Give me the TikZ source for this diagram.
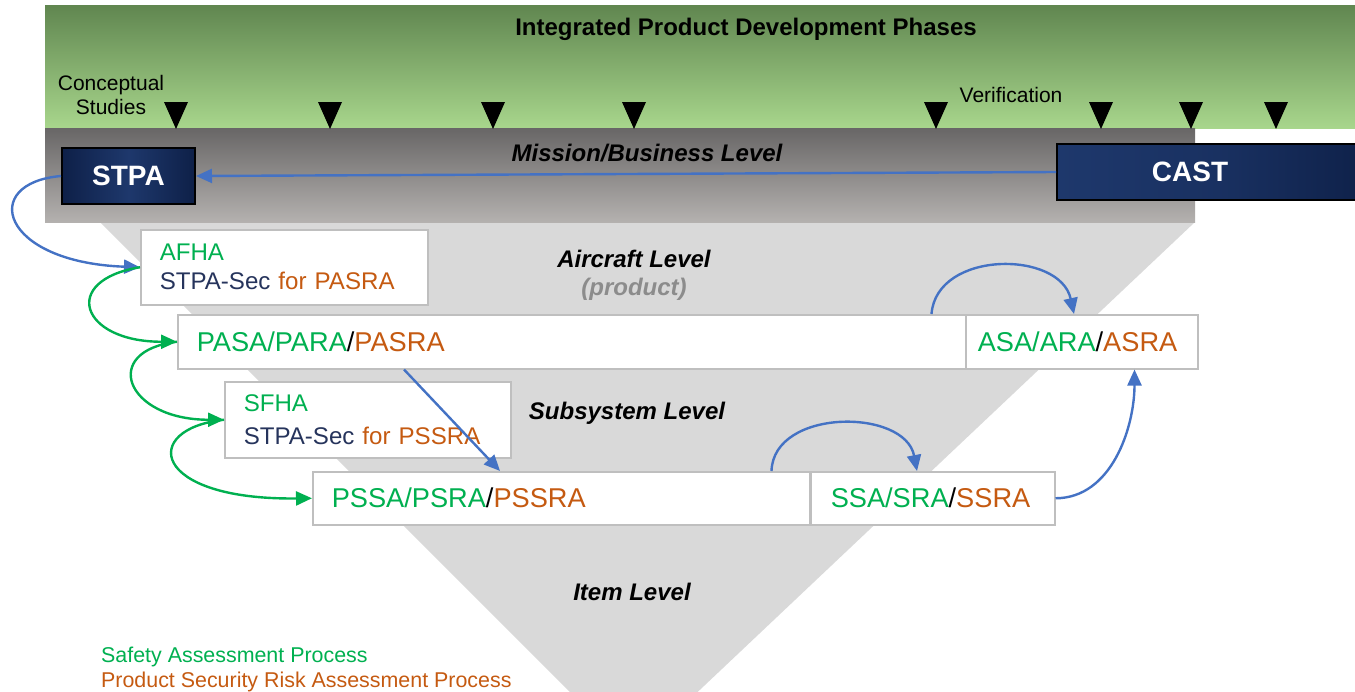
\documentclass[tikz,border=0pt]{standalone}
\usepackage{fontspec}
\setmainfont{Liberation Sans}
\usetikzlibrary{arrows.meta}

\definecolor{saGreen}{RGB}{0,176,80}
\definecolor{srOrange}{RGB}{197,90,17}
\definecolor{secNavy}{RGB}{38,52,92}
\definecolor{arrowBlue}{RGB}{68,114,196}
\definecolor{boxGray}{RGB}{191,191,191}
\definecolor{funnelGray}{RGB}{217,217,217}
\definecolor{greenTop}{RGB}{96,134,80}
\definecolor{greenBottom}{RGB}{168,214,140}
\definecolor{grayTop}{RGB}{104,102,102}
\definecolor{grayBottom}{RGB}{180,177,175}
\definecolor{navyLight}{RGB}{30,56,108}
\definecolor{navyDark}{RGB}{14,32,72}
\definecolor{productGray}{RGB}{140,140,140}

\begin{document}
\begin{tikzpicture}[x=1pt, y=-1pt,
levellabel/.style={font=\fontsize{24pt}{28pt}\selectfont\bfseries\itshape},
phaselabel/.style={font=\fontsize{21pt}{24pt}\selectfont, align=center},
legendlabel/.style={font=\fontsize{21.4pt}{24pt}\selectfont, anchor=west, inner xsep=0pt},
navybox/.style={draw=black, line width=2pt, left color=navyDark, right color=navyDark, middle color=navyLight, text=white, font=\fontsize{28pt}{32pt}\selectfont\bfseries},
whitebox/.style={draw=boxGray, line width=1.5pt, fill=white, anchor=north west, align=left, inner xsep=19pt, inner ysep=0pt},
boxtext/.style={font=\fontsize{27.2pt}{30pt}\selectfont},
twolinetext/.style={font=\fontsize{24.1pt}{29pt}\selectfont},
bluearrow/.style={draw=arrowBlue, line width=2.4pt, -{Triangle[length=16pt,width=14pt]}},
greenarrow/.style={draw=saGreen, line width=2.4pt, -{Triangle[length=16pt,width=14pt]}}
]
    \clip (0,0) rectangle (1355,691);

    \shade[top color=greenTop, bottom color=greenBottom] (45,5) rectangle (1355,128);
    \fill[funnelGray] (100,222) -- (1195,222) -- (632,754) -- cycle;
    \shade[top color=grayTop, bottom color=grayBottom] (45,128) rectangle (1195,222);

    \node[font=\fontsize{24pt}{28pt}\selectfont\bfseries] (title) at (746,29) {Integrated Product Development Phases};
    \node[phaselabel] (conceptual) at (111,95) {Conceptual\\Studies};
    \node[phaselabel] (verification) at (1011,95) {Verification};
    \foreach \px in {176,330,493,634,936,1101,1191,1276}
        \fill (\px-12,102) -- (\px+12,102) -- (\px,129) -- cycle;

    \node[levellabel] (mission) at (647,153) {Mission/Business Level};
    \node[levellabel] (aircraft) at (634,259) {Aircraft Level};
    \node[levellabel, text=productGray] (product) at (634,289) {(product)};
    \node[levellabel] (subsystem) at (627,413) {Subsystem Level};
    \node[levellabel] (item) at (632,592) {Item Level};

    \node[navybox, minimum width=133pt, minimum height=56pt] (nodeSTPA) at (128.5,176) {STPA};
    \node[navybox, left color=navyLight, right color=navyDark, middle color=navyLight!70!navyDark, minimum width=320pt, minimum height=56pt, anchor=west] (nodeCAST) at (1056,172) {};
    \node[text=white, font=\fontsize{28pt}{32pt}\selectfont\bfseries] (labelCAST) at (1190,172) {CAST};

    \node[whitebox, twolinetext, text width=249pt, minimum height=75pt] (nodeAFHA) at (140,229)
        {\textcolor{saGreen}{AFHA}\\\textcolor{secNavy}{STPA-Sec} \textcolor{srOrange}{for PASRA}};
    \node[whitebox, boxtext, text width=750pt, minimum height=54pt] (nodePASA) at (177,314)
        {\textcolor{saGreen}{PASA/PARA}/\textcolor{srOrange}{PASRA}};
    \node[whitebox, boxtext, inner xsep=12pt, text width=208pt, minimum height=54pt] (nodeASA) at (965,314)
        {\textcolor{saGreen}{ASA/ARA}/\textcolor{srOrange}{ASRA}};
    \node[whitebox, twolinetext, text width=248pt, minimum height=76pt] (nodeSFHA) at (224,381)
        {\textcolor{saGreen}{SFHA}\\[4pt]\textcolor{secNavy}{STPA-Sec} \textcolor{srOrange}{for PSSRA}};
    \node[whitebox, boxtext, text width=459pt, minimum height=53pt] (nodePSSA) at (312,471)
        {\textcolor{saGreen}{PSSA/PSRA}/\textcolor{srOrange}{PSSRA}};
    \node[whitebox, boxtext, inner xsep=20pt, text width=204pt, minimum height=53pt] (nodeSSA) at (810,471)
        {\textcolor{saGreen}{SSA/SRA}/\textcolor{srOrange}{SSRA}};

    \node[legendlabel, text=saGreen] (legendSafety) at (101,657) {Safety Assessment Process};
    \node[legendlabel, text=srOrange] (legendSecurity) at (101,682) {Product Security Risk Assessment Process};

    \draw[bluearrow] (nodeCAST.west) -- (nodeSTPA.east);
    \draw[bluearrow] (nodeSTPA.west) .. controls +(-82,7) and +(-140,-5) .. (nodeAFHA.west);
    \draw[greenarrow] (nodeAFHA.west) .. controls +(-80,13) and +(-97,0) .. (nodePASA.west);
    \draw[greenarrow] (nodePASA.west) .. controls +(-77,9) and +(-99,0) .. (nodeSFHA.west);
    \draw[greenarrow] (nodeSFHA.west) .. controls +(-84,9) and +(-162,2) .. (nodePSSA.west);
    \draw[bluearrow] ([xshift=227pt]nodePASA.south west) -- ([xshift=188pt]nodePSSA.north west);
    \draw[bluearrow] ([xshift=-35pt]nodePASA.north east) .. controls +(5,-64) and +(-14,-64) .. ([xshift=109pt]nodeASA.north west);
    \draw[bluearrow] ([xshift=-39pt]nodePSSA.north east) .. controls +(2,-63) and +(-12,-63) .. ([xshift=107pt]nodeSSA.north west);
    \draw[bluearrow] (nodeSSA.east) .. controls +(56,0) and +(0,58) .. ([xshift=-64pt]nodeASA.south east);
\end{tikzpicture}
\end{document}
